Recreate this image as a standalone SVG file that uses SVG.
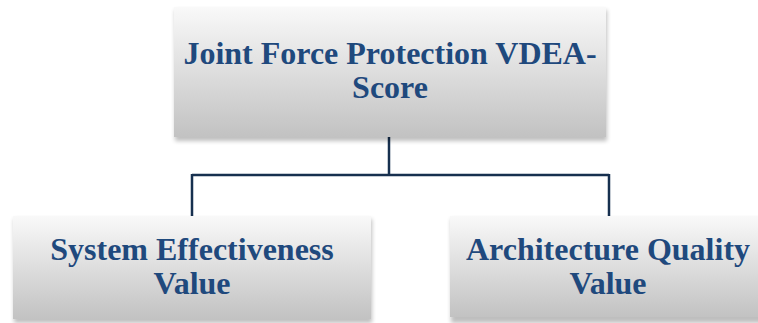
<svg xmlns="http://www.w3.org/2000/svg" width="758" height="323" viewBox="0 0 758 323">
<style>
.box{fill:url(#g);}
.sh{fill:#000;opacity:0.25;filter:url(#blur);}
.t{font-family:"Liberation Serif",serif;font-weight:bold;fill:#1F497D;text-anchor:middle;font-size:32px;}
.c{fill:none;stroke:#17304f;stroke-width:2.5;}
</style>
<defs>
<linearGradient id="g" x1="0" y1="0" x2="0" y2="1">
<stop offset="0" stop-color="#f9f9f9"/>
<stop offset="1" stop-color="#c2c2c2"/>
</linearGradient>
<filter id="blur" x="-10%" y="-10%" width="120%" height="130%"><feGaussianBlur stdDeviation="2"/></filter>
</defs>
<rect width="758" height="323" fill="#fff"/>
<g id="connectors">
<path class="c" d="M389 137V175M192 175H609M192 174V216M609 174V216"/>
</g>
<g id="top">
<rect class="sh" x="175" y="10" width="432" height="131"/>
<rect class="box" x="174" y="7" width="432" height="130"/>
<text class="t" x="390" y="64">Joint Force Protection VDEA-</text>
<text class="t" x="390" y="98">Score</text>
</g>
<g id="left">
<rect class="sh" x="14" y="219" width="358" height="104"/>
<rect class="box" x="13" y="216" width="358" height="103"/>
<text class="t" x="192" y="260">System Effectiveness</text>
<text class="t" x="192" y="294">Value</text>
</g>
<g id="right">
<rect class="sh" x="451" y="219" width="320" height="104"/>
<rect class="box" x="450" y="216" width="320" height="101"/>
<text class="t" x="608" y="260">Architecture Quality</text>
<text class="t" x="608" y="294">Value</text>
</g>
</svg>
